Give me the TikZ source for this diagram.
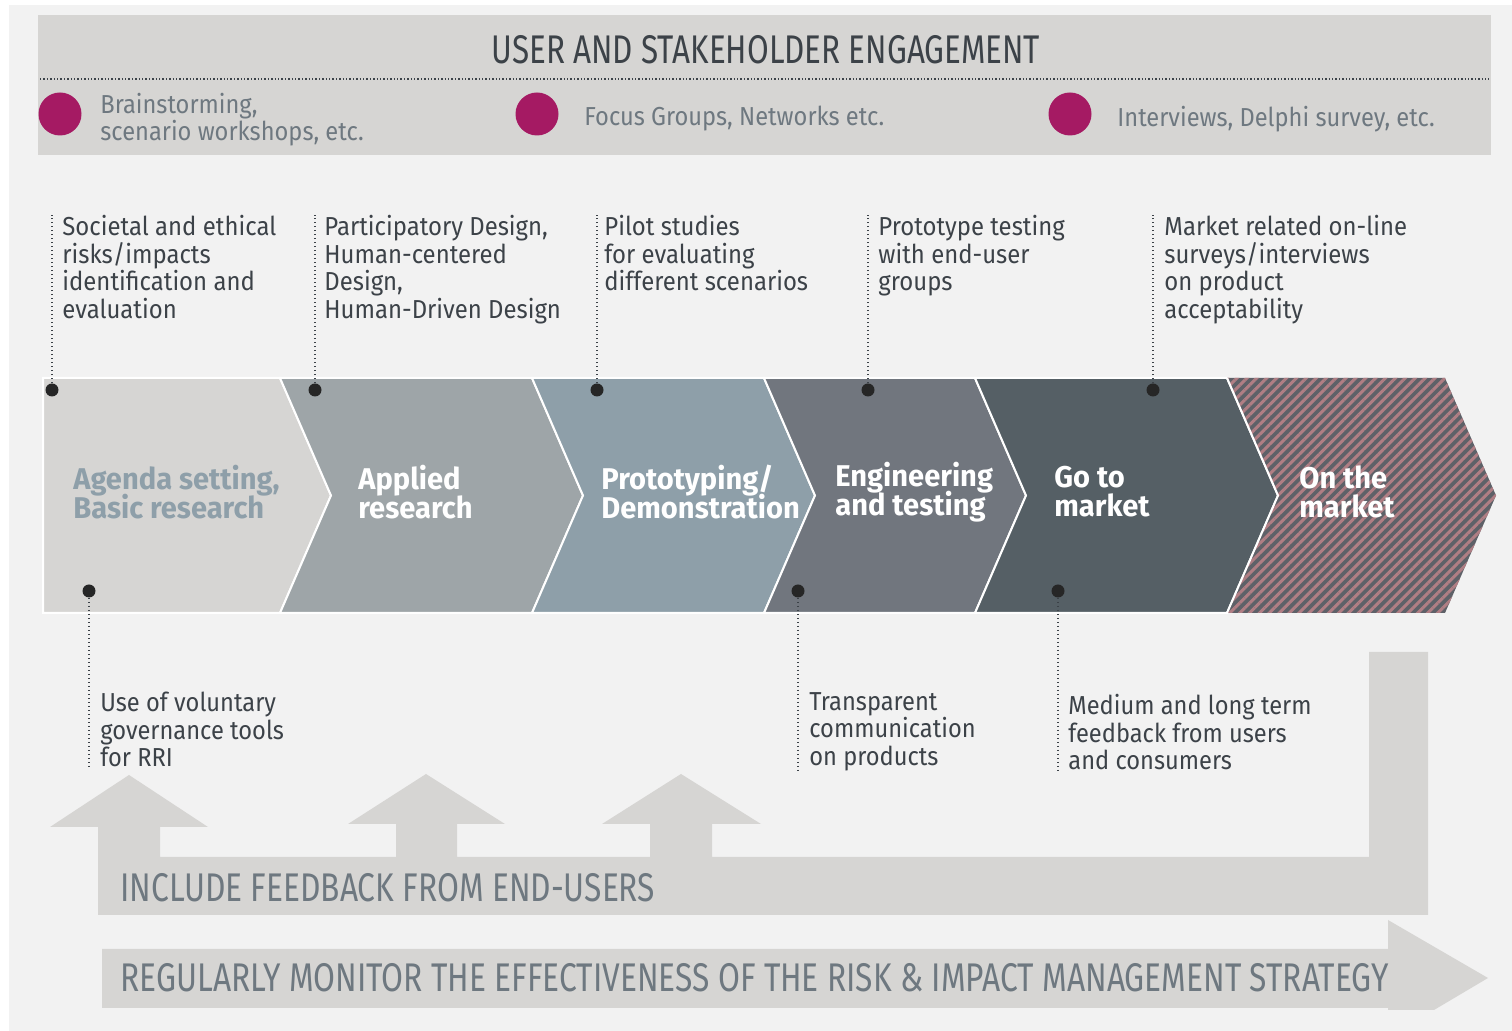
\documentclass[tikz,border=0pt]{standalone}
\usepackage{fontspec}
\setmainfont[FakeStretch=0.92]{Fira Sans}
\newfontfamily\titlefont[FakeStretch=0.785]{Fira Sans}
\newfontfamily\capsfont[FakeStretch=0.793]{Fira Sans}
\newfontfamily\notefont[FakeStretch=0.91]{Fira Sans}
\newfontfamily\stagefont[FakeStretch=0.97]{Fira Sans}
\usetikzlibrary{patterns.meta}
\newcommand\tightlines{\lineskiplimit=-10pt\relax}

\definecolor{paper}{HTML}{F2F2F2}
\definecolor{band}{HTML}{D6D5D3}
\definecolor{plum}{HTML}{A51A63}
\definecolor{ink}{HTML}{3C4248}
\definecolor{slate}{HTML}{6E7880}
\definecolor{stageA}{HTML}{D6D5D3}
\definecolor{stageB}{HTML}{9EA5A8}
\definecolor{stageC}{HTML}{8E9FA9}
\definecolor{stageD}{HTML}{71767E}
\definecolor{stageE}{HTML}{555F65}
\definecolor{stageF}{HTML}{5E6168}
\definecolor{rosy}{HTML}{B07E84}

\begin{document}
\begin{tikzpicture}[x=0.5pt,y=-0.5pt,
	leader/.style={line width=0.7pt, dash pattern=on 0.7pt off 1.3pt, ink},
	blob/.style={circle, fill=black!85, inner sep=0, minimum size=6.5pt},
	bullet/.style={circle, fill=plum, inner sep=0, minimum size=21.5pt},
	legend/.style={anchor=west, inner sep=0, align=left, slate, font=\notefont\fontsize{13}{13.5}\selectfont\tightlines},
	note/.style={anchor=north west, inner sep=0, align=left, ink, font=\fontsize{13}{13.75}\selectfont\tightlines},
	lownote/.style={anchor=north west, inner sep=0, align=left, ink, font=\notefont\fontsize{13}{13.75}\selectfont\tightlines},
	stagetext/.style={anchor=west, inner sep=0, align=left, white, font=\stagefont\bfseries\fontsize{15}{14.5}\selectfont\tightlines},
	banner/.style={anchor=west, inner sep=0, slate, font=\capsfont\fontsize{20}{20}\selectfont}]
	%%%%% START %%%%%
	
	\useasboundingbox (0,0) rectangle (1512,1031);
	\fill[white] (0,0) rectangle (1512,1031);
	\fill[paper] (9,5) rectangle (1512,1031);
	
	% engagement band
	\fill[band] (38,15) rectangle (1491,155);
	\node[inner sep=0, ink, font=\titlefont\fontsize{20}{20}\selectfont] (title) at (766,50) {USER AND STAKEHOLDER ENGAGEMENT};
	\draw[line width=0.7pt, dash pattern=on 0.7pt off 1pt, ink] (40,79) -- (1489,79);
	
	\node[bullet] (b1) at (60,114) {};
	\node[bullet] (b2) at (537,114) {};
	\node[bullet] (b3) at (1070,114) {};
	\node[legend] (l1) at (100,120) {Brainstorming,\\scenario workshops, etc.};
	\node[legend] (l2) at (584,119) {Focus Groups, Networks etc.};
	\node[legend] (l3) at (1117,119) {Interviews, Delphi survey, etc.};
	
	% stages
	\fill[stageA, draw=white, line width=1pt] (43,378) -- (280,378) -- (331,495.5) -- (280,613) -- (43,613) -- cycle;
	\foreach \a/\b/\c in {280/532/stageB, 532/764/stageC, 764/975/stageD, 975/1227/stageE}
		\fill[\c, draw=white, line width=1pt] (\a,378) -- (\b,378) -- (\b+51,495.5) -- (\b,613) -- (\a,613) -- (\a+51,495.5) -- cycle;
	\fill[stageF] (1227,378) -- (1445,378) -- (1496,495.5) -- (1445,613) -- (1227,613) -- (1278,495.5) -- cycle;
	\fill[pattern={Lines[angle=45, distance=3.5pt, line width=1.5pt]}, pattern color=rosy] (1227,378) -- (1445,378) -- (1496,495.5) -- (1445,613) -- (1227,613) -- (1278,495.5) -- cycle;
	\draw[white, line width=1pt] (1227,378) -- (1278,495.5) -- (1227,613);
	
	\node[stagetext, stageC] (s1) at (73,492) {Agenda setting,\\Basic research};
	\node[stagetext] (s2) at (358,492) {Applied\\research};
	\node[stagetext] (s3) at (601,492) {Prototyping/\\Demonstration};
	\node[stagetext] (s4) at (835,492) {Engineering\\and testing};
	\node[stagetext] (s5) at (1054,492) {Go to\\market};
	\node[stagetext] (s6) at (1299,492) {On the\\market};
	
	% notes above
	\node[note] (t1) at (62,215) {Societal and ethical\\risks/impacts\\identification and\\evaluation};
	\node[note] (t2) at (324,215) {Participatory Design,\\Human-centered\\Design,\\Human-Driven Design};
	\node[note] (t3) at (604,215) {Pilot studies\\for evaluating\\different scenarios};
	\node[note] (t4) at (878,215) {Prototype testing\\with end-user\\groups};
	\node[note] (t5) at (1164,215) {Market related on-line\\surveys/interviews\\on product\\acceptability};
	
	\node[blob] (d1) at (52,390) {};
	\node[blob] (d2) at (315,390) {};
	\node[blob] (d3) at (597,390) {};
	\node[blob] (d4) at (868,390) {};
	\node[blob] (d5) at (1153,390) {};
	\foreach \i in {1,...,5}
		\draw[leader] (d\i) -- (d\i |- t\i.north west);
	
	% notes below
	\node[lownote] (u1) at (100,692) {Use of voluntary\\governance tools\\for RRI};
	\node[lownote] (u2) at (809,692) {Transparent\\communication\\on products};
	\node[lownote] (u3) at (1068,694) {Medium and long term\\feedback from users\\and consumers};
	
	\node[blob] (e1) at (89,591) {};
	\node[blob] (e2) at (798,591) {};
	\node[blob] (e3) at (1058,591) {};
	\draw[leader] (e1) -- (e1 |- u1.south west);
	\draw[leader] (e2) -- (e2 |- u2.south west);
	\draw[leader] (e3) -- (e3 |- u3.south west);
	
	% feedback loop
	\fill[band] (98,915) -- (98,827) -- (50,827) -- (129,775) -- (208,827) -- (160,827) -- (160,857)
		-- (396,857) -- (396,824) -- (348,824) -- (426,774) -- (505,824) -- (457,824) -- (457,857)
		-- (650,857) -- (650,824) -- (602,824) -- (681,774) -- (761,824) -- (712,824) -- (712,857)
		-- (1369,857) -- (1369,652) -- (1428,652) -- (1428,915) -- cycle;
	\node[banner] (fb) at (120,888) {INCLUDE FEEDBACK FROM END-USERS};
	
	% monitoring arrow
	\fill[band] (102,949) -- (1388,949) -- (1388,920) -- (1488,978) -- (1434,1010) -- (1388,1010) -- (1388,1008) -- (102,1008) -- cycle;
	\node[banner] (mon) at (120,978) {REGULARLY MONITOR THE EFFECTIVENESS OF THE RISK \& IMPACT MANAGEMENT STRATEGY};
	
	%%%%% END %%%%%
\end{tikzpicture}
\end{document}
